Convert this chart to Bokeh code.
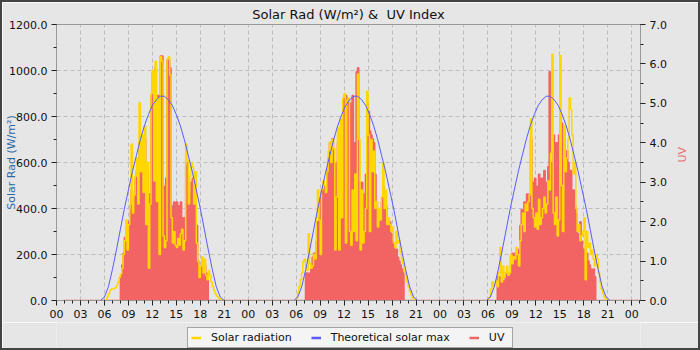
import numpy as np
from bokeh.plotting import figure
from bokeh.layouts import column
from bokeh.models import (Range1d, LinearAxis, FixedTicker, NumeralTickFormatter,
                          Legend, LegendItem)
from bokeh.embed import file_html
from bokeh.resources import INLINE

# ---------------- data ----------------
# time in hours from midnight of day 1; day values sampled every 10 min from 06:00 to 21:00
data_start = 0.9
data_end = 73.1
day_starts = [0, 24, 48]

solar_day1 = [
    0, 5, 15, 30, 45, 50,
    50, 52, 55, 65, 80, 100,
    115, 140, 200, 260, 350, 220,
    330, 420, 680, 380, 460, 540,
    620, 420, 860, 560, 720, 470,
    760, 330, 600, 140, 420, 900,
    1000, 520, 1040, 430, 880, 200,
    1060, 1040, 280, 230, 260, 1050,
    1060, 980, 360, 250, 300, 240,
    230, 270, 240, 290, 310, 220,
    260, 680, 610, 420, 540, 600,
    580, 420, 560, 250, 170, 100,
    150, 190, 120, 180, 110, 90,
    130, 110, 80, 60, 45, 30,
    20, 14, 8, 4, 2, 1,
    0]
solar_day2 = [
    10, 30, 60, 90, 120, 170,
    180, 150, 130, 290, 160, 140,
    150, 200, 180, 360, 480, 350,
    200, 480, 520, 500, 470, 560,
    650, 690, 600, 700, 660, 220,
    450, 750, 220, 790, 360, 880,
    900, 250, 870, 880, 300, 240,
    480, 300, 550, 260, 985, 700,
    220, 480, 250, 300, 400, 910,
    720, 300, 700, 560, 650, 400,
    430, 320, 400, 350, 450, 595,
    400, 480, 330, 360, 330, 300,
    320, 250, 230, 300, 250, 260,
    210, 180, 160, 130, 110, 80,
    60, 40, 25, 12, 5, 2,
    0]
solar_day3 = [
    5, 15, 50, 80, 60, 70,
    85, 60, 120, 230, 80, 150,
    100, 120, 150, 110, 120, 200,
    160, 190, 180, 230, 200, 150,
    260, 330, 380, 300, 420, 390,
    430, 460, 790, 400, 360, 320,
    380, 310, 440, 330, 360, 400,
    450, 380, 420, 520, 480, 640,
    1070, 380, 330, 450, 280, 350,
    1065, 500, 300, 760, 560, 620,
    700, 880, 830, 720, 550, 600,
    400, 300, 330, 260, 280, 300,
    360, 90, 300, 230, 250, 200,
    220, 180, 150, 200, 180, 120,
    80, 50, 30, 15, 6, 2,
    0]

uv_day1 = [
    0, 0, 0, 0, 0, 0,
    0, 0, 0, 0, 0, 0,
    0.6, 0.9, 1.2, 1.6, 1.9, 1.5,
    2.0, 2.3, 2.8, 2.3, 2.6, 3.1,
    3.3, 2.9, 4.0, 3.5, 4.0, 2.6,
    4.1, 2.7, 3.3, 1.8, 2.7, 5.2,
    5.8, 3.4, 5.9, 2.2, 5.2, 3.0,
    6.2, 6.2, 2.1, 2.9, 3.1, 6.1,
    6.1, 5.9, 2.4, 2.2, 2.5, 1.9,
    2.5, 2.1, 2.4, 2.5, 2.0, 2.1,
    2.1, 3.4, 3.5, 2.7, 2.5, 3.0,
    3.1, 2.6, 2.4, 1.9, 1.0, 0.6,
    0.0, 1.0, 1.0, 0.9, 0.7, 0.6,
    0, 0, 0, 0, 0, 0,
    0, 0, 0, 0, 0, 0,
    0]
uv_day2 = [
    0, 0, 0, 0, 0, 0,
    0, 0.7, 0.7, 0.6, 0.7, 0.8,
    1.1, 1.2, 1.1, 1.5, 2.0, 2.1,
    2.6, 2.8, 2.6, 2.9, 2.7, 3.3,
    3.6, 4.0, 3.8, 4.1, 3.5, 2.6,
    3.5, 4.0, 3.0, 4.3, 2.1, 5.1,
    5.2, 5.2, 2.6, 5.1, 3.2, 5.0,
    5.2, 3.2, 4.0, 5.8, 5.9, 3.0,
    2.8, 3.0, 2.6, 2.7, 3.2, 5.0,
    4.8, 4.3, 4.2, 4.1, 4.0, 3.2,
    2.5, 2.1, 1.9, 2.3, 2.5, 2.9,
    2.6, 2.4, 1.9, 1.8, 2.0, 1.7,
    1.5, 1.4, 1.2, 1.3, 1.1, 1.0,
    0.9, 0.8, 0.7, 0, 0, 0,
    0, 0, 0, 0, 0, 0,
    0]
uv_day3 = [
    0, 0, 0, 0, 0, 0,
    0.0, 0.6, 0.6, 0.0, 0.6, 0.5,
    0.0, 0.7, 0.6, 0.7, 0.5, 1.1,
    1.2, 1.1, 1.2, 1.3, 1.2, 1.3,
    1.9, 2.3, 2.1, 2.5, 2.4, 2.7,
    2.6, 2.7, 4.1, 3.0, 2.6, 3.1,
    2.9, 2.6, 3.2, 2.8, 3.1, 2.9,
    3.3, 3.0, 2.8, 3.4, 5.8, 3.5,
    3.1, 4.2, 3.5, 4.0, 3.6, 4.2,
    4.7, 4.5, 4.0, 4.3, 3.6, 3.8,
    3.5, 3.0, 3.3, 2.6, 2.8, 2.4,
    2.2, 1.7, 1.6, 2.0, 1.5, 1.2,
    1.3, 1.0, 1.2, 1.0, 0.9, 0.8,
    0.7, 0.8, 0.6, 0, 0, 0,
    0, 0, 0, 0, 0, 0,
    0]

# theoretical solar max, half-hourly from 05:30 to 21:00, with each day's solar-noon shift (h)
theo_hours = [5.5 + 0.5 * i for i in range(32)]
theo_profile = [0, 15, 60, 135, 220, 310, 400, 480, 560, 630, 700, 760, 808, 848, 873, 888,
                888, 873, 848, 808, 760, 700, 630, 560, 480, 400, 310, 220, 135, 60, 15, 0]
theo_shift = [0.0, 0.2, 0.3]

hour_ticks = list(range(0, 73, 3))
hour_labels = ["00", "03", "06", "09", "12", "15", "18", "21"] * 3 + ["00"]

# ---------------- assemble series ----------------
sample_hours = [6 + k / 6 for k in range(91)]
t = [data_start]
uv = [0]
ts, solar = [], []
for d0, s, u in zip(day_starts, [solar_day1, solar_day2, solar_day3], [uv_day1, uv_day2, uv_day3]):
    hrs = [d0 + h for h in sample_hours]
    t += hrs
    uv += u
    ts += hrs + [np.nan]
    solar += s + [np.nan]
t.append(data_end); uv.append(0)

tt = [data_start]
theo = [0]
for d0, sh in zip(day_starts, theo_shift):
    tt += [d0 + sh + h for h in theo_hours]
    theo += theo_profile
tt.append(data_end); theo.append(0)

# ---------------- figure ----------------
BG = "#e6e6e6"
FONT = "DejaVu Sans"
C_SOL, C_THEO, C_UV = "#ffd700", "#5a5aff", "#f26464"

p = figure(width=696, height=320, output_backend="svg", toolbar_location=None,
           x_range=Range1d(0, data_end), y_range=Range1d(0, 1200),
           min_border_left=53, min_border_right=58, min_border_top=22, min_border_bottom=22)
p.background_fill_color = BG
p.border_fill_color = BG
p.outline_line_color = "#999999"

p.title.text = "Solar Rad (W/m²) &\u00a0 UV Index"
p.title.align = "center"
p.title.vertical_align = "middle"
p.title.text_font = FONT
p.title.text_font_size = "13px"
p.title.text_font_style = "normal"
p.title.text_color = "#111111"
p.title.standoff = 4

p.extra_y_ranges = {"uv": Range1d(0, 7)}

p.varea_step(x=t, y1=[0] * len(t), y2=uv, step_mode="after",
             fill_color=C_UV, y_range_name="uv")
p.step(t, uv, mode="after", line_color=C_UV, line_width=1.5, y_range_name="uv")
p.step(ts, solar, mode="after", line_color=C_SOL, line_width=1.5)
p.line(tt, theo, line_color=C_THEO, line_width=1)

# axes
xa = p.xaxis[0]
xa.ticker = FixedTicker(ticks=hour_ticks, minor_ticks=list(range(0, 74)))
xa.major_label_overrides = {h: lab for h, lab in zip(hour_ticks, hour_labels)}

ya = p.yaxis[0]
ya.ticker = FixedTicker(ticks=list(range(0, 1201, 200)), minor_ticks=list(range(0, 1201, 100)))
ya.formatter = NumeralTickFormatter(format="0.0")
ya.axis_label = "Solar Rad (W/m²)"
ya.axis_label_text_color = "#2a6aa8"

ra = LinearAxis(y_range_name="uv")
ra.ticker = FixedTicker(ticks=list(range(0, 8)), minor_ticks=[i * 0.5 for i in range(15)])
ra.formatter = NumeralTickFormatter(format="0.0")
ra.axis_label = "UV"
ra.axis_label_text_color = "#e86a6a"
ra.axis_label_orientation = np.pi / 2
p.add_layout(ra, "right")

for ax in [xa, ya, ra]:
    ax.axis_line_color = "#999999"
    ax.major_tick_line_color = "#222222"
    ax.minor_tick_line_color = "#222222"
    ax.major_tick_out = 5
    ax.major_tick_in = 0
    ax.minor_tick_out = 3
    ax.minor_tick_in = 0
    ax.major_label_standoff = 4
    ax.major_label_text_font = FONT
    ax.major_label_text_font_size = "11px"
    ax.major_label_text_color = "#111111"
    ax.axis_label_text_font = FONT
    ax.axis_label_text_font_size = "11px"
    ax.axis_label_text_font_style = "normal"
ya.axis_label_standoff = -12
ra.axis_label_standoff = 13

for g in [p.xgrid[0], p.ygrid[0]]:
    g.grid_line_color = "#bdbdbd"
    g.grid_line_dash = "4 3"
    g.grid_line_width = 1

# ---------------- legend strip ----------------
lg = figure(width=696, height=26, output_backend="svg", toolbar_location=None,
            x_range=Range1d(0, 1), y_range=Range1d(0, 1),
            x_axis_location=None, y_axis_location=None,
            min_border_left=0, min_border_right=0, min_border_top=0, min_border_bottom=0)
lg.background_fill_color = BG
lg.border_fill_color = BG
lg.outline_line_color = None
lg.grid.visible = False
hidden = ([-2, -1], [-2, -1])
r_sol = lg.line(*hidden, line_color=C_SOL, line_width=2.5)
r_theo = lg.line(*hidden, line_color=C_THEO, line_width=2.5)
r_uv = lg.line(*hidden, line_color=C_UV, line_width=2.5)

legend = Legend(items=[
    LegendItem(label="Solar radiation", renderers=[r_sol]),
    LegendItem(label="Theoretical solar max", renderers=[r_theo]),
    LegendItem(label="UV", renderers=[r_uv]),
], orientation="horizontal", location=(131, 0))
legend.label_text_font = FONT
legend.label_text_font_size = "11px"
legend.label_text_color = "#111111"
legend.background_fill_color = "#f4f4f4"
legend.background_fill_alpha = 1
legend.border_line_color = "#555555"
legend.glyph_width = 10
legend.glyph_height = 11
legend.label_height = 11
legend.label_standoff = 10
legend.spacing = 19
legend.padding = 3
legend.margin = 0
lg.add_layout(legend, "center")

layout = column(p, lg, styles={"border": "2px solid #444444"})
open("out.html", "w").write(file_html(layout, INLINE))
